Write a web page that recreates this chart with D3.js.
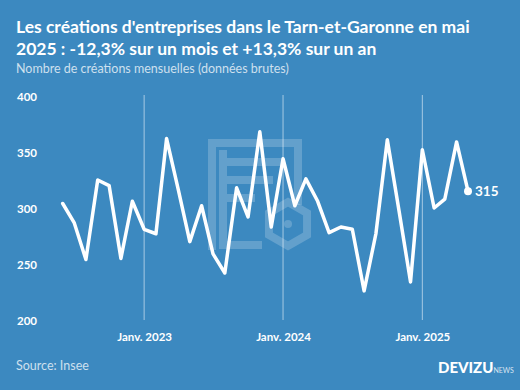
<!DOCTYPE html>
<html><head><meta charset="utf-8">
<script src="https://cdn.jsdelivr.net/npm/d3@7"></script>
<style>
html,body{margin:0;padding:0;background:#3c89c0;}
svg{display:block;font-family:Lato,"Noto Sans",sans-serif;}
</style></head><body>
<script>
const months = ["2022-06","2022-07","2022-08","2022-09","2022-10","2022-11","2022-12",
"2023-01","2023-02","2023-03","2023-04","2023-05","2023-06","2023-07","2023-08","2023-09","2023-10","2023-11","2023-12",
"2024-01","2024-02","2024-03","2024-04","2024-05","2024-06","2024-07","2024-08","2024-09","2024-10","2024-11","2024-12",
"2025-01","2025-02","2025-03","2025-04","2025-05"];
const values = [304,287,254,325,320,255,306,
281,277,362,316,270,302,259,242,318,292,368,283,
344,302,326,306,278,283,281,226,277,361,297,234,
352,300,308,359,315];
const yTicks = [200,250,300,350,400];
const xTickDates = ["2023-01","2024-01","2025-01"];
const xTickLabels = ["Janv. 2023","Janv. 2024","Janv. 2025"];

const W=520,H=390;
const parse=d3.timeParse("%Y-%m");
const data=months.map((m,i)=>({d:parse(m),v:values[i]}));
const svg=d3.select("body").append("svg").attr("width",W).attr("height",H);
svg.append("rect").attr("width",W).attr("height",H).attr("fill","#3c89c0");

const x=d3.scaleTime().domain([parse("2022-06"),parse("2025-05")]).range([62.7,468]);
const y=d3.scaleLinear().domain([200,400]).range([320,96]);

// watermark
const wm=svg.append("g").attr("fill","none").attr("stroke","#ffffff").attr("stroke-opacity",0.2).attr("stroke-width",8);
wm.append("path").attr("d","M212,250 L212,143 L298,143 L298,205");
wm.append("path").attr("d","M223,150 L223,245 L262,245");
wm.append("path").attr("d","M227,162 L282,162 M227,180 L273,180 M227,198 L255,198");
const hx=288,hy=224,hr=22;
const hex=d3.range(6).map(k=>{const a=Math.PI/180*(60*k+30);return [hx+hr*Math.cos(a),hy+hr*Math.sin(a)];});
wm.append("path").attr("d","M"+hex.map(p=>p.join(",")).join("L")+"Z");
svg.append("circle").attr("cx",hx).attr("cy",hy).attr("r",4).attr("fill","#ffffff").attr("fill-opacity",0.2);

// gridlines
svg.append("g").selectAll("line").data(xTickDates).join("line")
  .attr("x1",d=>x(parse(d))).attr("x2",d=>x(parse(d)))
  .attr("y1",95).attr("y2",320)
  .attr("stroke","#ffffff").attr("stroke-opacity",0.55).attr("stroke-width",1);

// y axis labels
const yAxis=d3.axisLeft(y).tickValues(yTicks).tickSize(0).tickPadding(0);
const gy=svg.append("g").attr("transform","translate(17,0)").call(yAxis);
gy.select(".domain").remove();
gy.selectAll("text").attr("text-anchor","start").attr("fill","#ffffff")
  .style("font-size","11.5px").style("font-weight","700").style("font-family","Lato,sans-serif").attr("dy","0.35em");

// x axis labels
const xAxis=d3.axisBottom(x).tickValues(xTickDates.map(parse)).tickFormat((d,i)=>xTickLabels[i]).tickSize(0).tickPadding(0);
const gx=svg.append("g").attr("transform","translate(0,337)").call(xAxis);
gx.select(".domain").remove();
gx.selectAll("text").attr("fill","#ffffff").attr("dy","0.35em")
  .style("font-size","11.5px").style("font-weight","700").style("font-family","Lato,sans-serif");

// line
const line=d3.line().x(d=>x(d.d)).y(d=>y(d.v));
svg.append("path").datum(data).attr("d",line).attr("fill","none")
  .attr("stroke","#ffffff").attr("stroke-width",3.5).attr("stroke-linejoin","round").attr("stroke-linecap","round");
const last=data[data.length-1];
svg.append("circle").attr("cx",x(last.d)).attr("cy",y(last.v)).attr("r",4).attr("fill","#ffffff");
svg.append("text").attr("x",x(last.d)+7).attr("y",y(last.v)).attr("dy","0.36em")
  .attr("fill","#ffffff").style("font-size","13.5px").style("font-weight","700").text(last.v);

// titles
svg.append("text").attr("x",16).attr("y",33).attr("fill","#ffffff").style("font-size","17.5px").style("font-weight","700")
  .text("Les créations d'entreprises dans le Tarn-et-Garonne en mai");
svg.append("text").attr("x",16).attr("y",55).attr("fill","#ffffff").style("font-size","17.5px").style("font-weight","700")
  .text("2025 : -12,3% sur un mois et +13,3% sur un an");
svg.append("text").attr("x",16).attr("y",73).attr("fill","#ffffff").attr("fill-opacity",0.75).style("font-size","12.5px")
  .text("Nombre de créations mensuelles (données brutes)");

// footer
svg.append("text").attr("x",16).attr("y",370).attr("fill","#ffffff").attr("fill-opacity",0.75).style("font-size","12.5px")
  .text("Source: Insee");
const logo=svg.append("text").attr("x",438).attr("y",373).attr("fill","#ffffff");
logo.append("tspan").style("font-size","15px").style("font-weight","900").text("DEVIZU");
logo.append("tspan").style("font-size","7px").attr("fill-opacity",0.8).text("NEWS");
</script>
</body></html>
